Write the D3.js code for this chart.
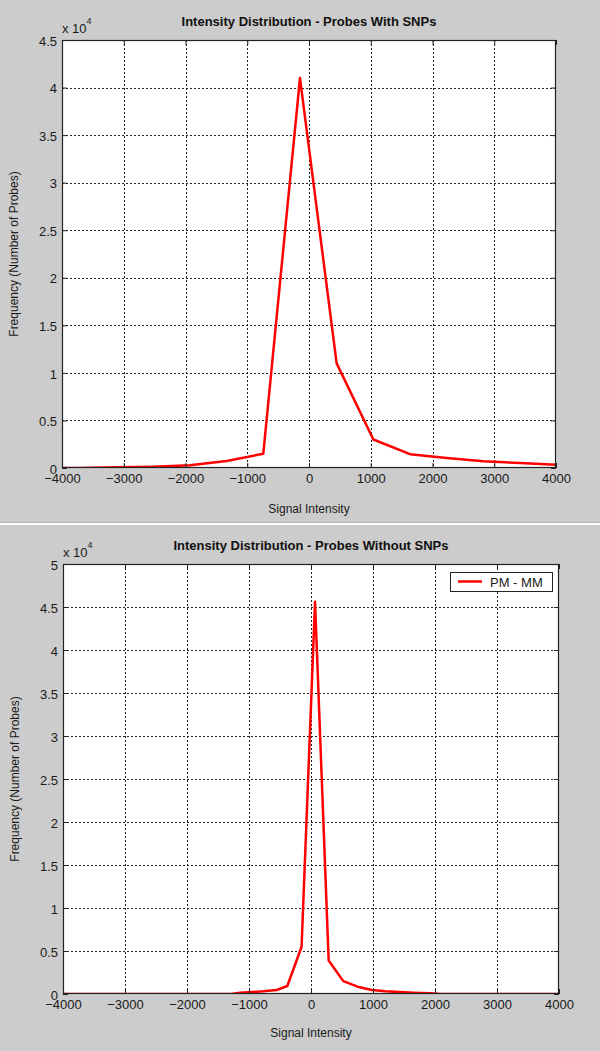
<!DOCTYPE html>
<html>
<head>
<meta charset="utf-8">
<script src="https://cdn.jsdelivr.net/npm/d3@7"></script>
<style>
  html, body { margin: 0; padding: 0; background: #cccccc; }
  svg { display: block; }
  text { font-family: Arial, "Liberation Sans", sans-serif; }
</style>
</head>
<body>
<script>
// ---------- DATA ----------
const xTicks = [-4000, -3000, -2000, -1000, 0, 1000, 2000, 3000, 4000];

const withSnpTitle = "Intensity Distribution - Probes With SNPs";
const withSnpX = [-4304, -3710, -3116, -2522, -1928, -1334, -740, -146, 448, 1042, 1636, 2230, 2824, 3418, 4012];
const withSnpY = [0, 0, 70, 140, 280, 730, 1500, 41000, 11000, 3000, 1450, 1050, 700, 520, 350];
const withSnpYTicks = [0, 5000, 10000, 15000, 20000, 25000, 30000, 35000, 40000, 45000];

const withoutSnpTitle = "Intensity Distribution - Probes Without SNPs";
const withoutSnpX = [-4000, -1286, -1145, -770, -554, -382, -152, 65, 285, 521, 750, 979, 1200, 1435, 1650, 1919, 2100, 4000];
const withoutSnpY = [0, 0, 150, 310, 465, 930, 5500, 45600, 3900, 1500, 850, 470, 330, 230, 150, 80, 0, 0];
const withoutSnpYTicks = [0, 5000, 10000, 15000, 20000, 25000, 30000, 35000, 40000, 45000, 50000];

const legendLabel = "PM - MM";
const xLabel = "Signal Intensity";
const yLabel = "Frequency (Number of Probes)";

// ---------- DRAW ----------
const W = 600, H = 1051;
const svg = d3.select("body").append("svg").attr("width", W).attr("height", H);
svg.append("rect").attr("width", W).attr("height", H).attr("fill", "#cccccc");
// separator between the two figures
svg.append("rect").attr("x", 0).attr("y", 522).attr("width", W).attr("height", 1).attr("fill", "#b8b8b8");
svg.append("rect").attr("x", 0).attr("y", 523).attr("width", W).attr("height", 2).attr("fill", "#ffffff");

function drawChart(cfg) {
  const { left, top, right, bottom, title, xs, ys, yTicks, yMax, legend, id, xLabelOffset } = cfg;
  const g = svg.append("g");
  const x = d3.scaleLinear().domain([-4000, 4000]).range([left, right]);
  const y = d3.scaleLinear().domain([0, yMax]).range([bottom, top]);

  g.append("rect").attr("x", left).attr("y", top).attr("width", right - left).attr("height", bottom - top).attr("fill", "#ffffff");

  // grid
  g.append("g").selectAll("line").data(xTicks.slice(1, -1)).join("line")
    .attr("x1", d => Math.round(x(d)) + 0.5).attr("x2", d => Math.round(x(d)) + 0.5)
    .attr("y1", top).attr("y2", bottom)
    .attr("stroke", "#222").attr("stroke-width", 1).attr("stroke-dasharray", "2,2");
  g.append("g").selectAll("line").data(yTicks.slice(1, -1)).join("line")
    .attr("x1", left).attr("x2", right)
    .attr("y1", d => Math.round(y(d)) + 0.5).attr("y2", d => Math.round(y(d)) + 0.5)
    .attr("stroke", "#222").attr("stroke-width", 1).attr("stroke-dasharray", "2,2");

  // data line
  const clipId = "clip" + id;
  svg.append("clipPath").attr("id", clipId).append("rect")
    .attr("x", left).attr("y", top - 2).attr("width", right - left).attr("height", bottom - top + 2);
  const pts = xs.map((v, i) => [v, ys[i]]);
  g.append("path").datum(pts)
    .attr("clip-path", `url(#${clipId})`)
    .attr("fill", "none").attr("stroke", "#ff0000").attr("stroke-width", 2.5)
    .attr("stroke-linejoin", "round")
    .attr("d", d3.line().x(d => x(d[0])).y(d => y(d[1])));

  // axes
  const xAxis = d3.axisBottom(x).tickValues(xTicks).tickSize(-5).tickPadding(6).tickFormat(d3.format("d"));
  const xa = g.append("g").attr("transform", `translate(0,${bottom})`).call(xAxis);
  const yAxis = d3.axisLeft(y).tickValues(yTicks).tickSize(-5).tickPadding(5).tickFormat(d => d3.format("~g")(d / 10000));
  const ya = g.append("g").attr("transform", `translate(${left},0)`).call(yAxis);
  [xa, ya].forEach(a => {
    a.select(".domain").remove();
    a.selectAll(".tick line").attr("stroke", "#222");
    a.selectAll(".tick text").attr("fill", "#1a1a1a").style("font-size", "13px")
      .style("font-family", "Arial, 'Liberation Sans', sans-serif");
  });
  ya.selectAll(".tick text").attr("dy", "0.4em");
  // mirrored ticks on top / right
  g.append("g").attr("transform", `translate(0,${top})`).call(d3.axisTop(x).tickValues(xTicks).tickSize(-5).tickFormat(""))
    .call(a => { a.select(".domain").remove(); a.selectAll("line").attr("stroke", "#222"); });
  g.append("g").attr("transform", `translate(${right},0)`).call(d3.axisRight(y).tickValues(yTicks).tickSize(-5).tickFormat(""))
    .call(a => { a.select(".domain").remove(); a.selectAll("line").attr("stroke", "#222"); });

  // box
  g.append("rect").attr("x", left + 0.5).attr("y", top + 0.5).attr("width", right - left - 1).attr("height", bottom - top - 1)
    .attr("fill", "none").attr("stroke", "#222").attr("stroke-width", 1.2);

  // exponent
  const ex = g.append("text").attr("x", left).attr("y", top - 7).attr("fill", "#1a1a1a").style("font-size", "13px");
  ex.append("tspan").text("x 10");
  ex.append("tspan").attr("dy", -9).style("font-size", "9px").text("4");

  // title
  g.append("text").attr("x", (left + right) / 2).attr("y", top - 14).attr("text-anchor", "middle")
    .attr("fill", "#111").style("font-size", "13px").style("font-weight", "bold").text(title);

  // axis labels
  g.append("text").attr("x", (left + right) / 2).attr("y", bottom + xLabelOffset).attr("text-anchor", "middle")
    .attr("fill", "#1a1a1a").style("font-size", "12px").text(xLabel);
  g.append("text").attr("transform", `translate(${left - 44},${(top + bottom) / 2}) rotate(-90)`)
    .attr("text-anchor", "middle").attr("fill", "#1a1a1a").style("font-size", "12px").text(yLabel);

  if (legend) {
    const lw = 102, lh = 19;
    const lx = right - 7 - lw, ly = top + 8;
    const lg = g.append("g");
    lg.append("rect").attr("x", lx + 0.5).attr("y", ly + 0.5).attr("width", lw).attr("height", lh)
      .attr("fill", "#fff").attr("stroke", "#222").attr("stroke-width", 1);
    lg.append("line").attr("x1", lx + 8).attr("x2", lx + 32).attr("y1", ly + 9.5).attr("y2", ly + 9.5)
      .attr("stroke", "#ff0000").attr("stroke-width", 2.5);
    lg.append("text").attr("x", lx + 40).attr("y", ly + 14.5).attr("fill", "#1a1a1a")
      .style("font-size", "13px").text(legend);
  }
}

drawChart({ id: 1, left: 62, top: 40, right: 556, bottom: 468, title: withSnpTitle,
  xs: withSnpX, ys: withSnpY, yTicks: withSnpYTicks, yMax: 45000, legend: null, xLabelOffset: 45 });
drawChart({ id: 2, left: 63, top: 564, right: 559, bottom: 994, title: withoutSnpTitle,
  xs: withoutSnpX, ys: withoutSnpY, yTicks: withoutSnpYTicks, yMax: 50000, legend: legendLabel, xLabelOffset: 43 });
</script>
</body>
</html>
